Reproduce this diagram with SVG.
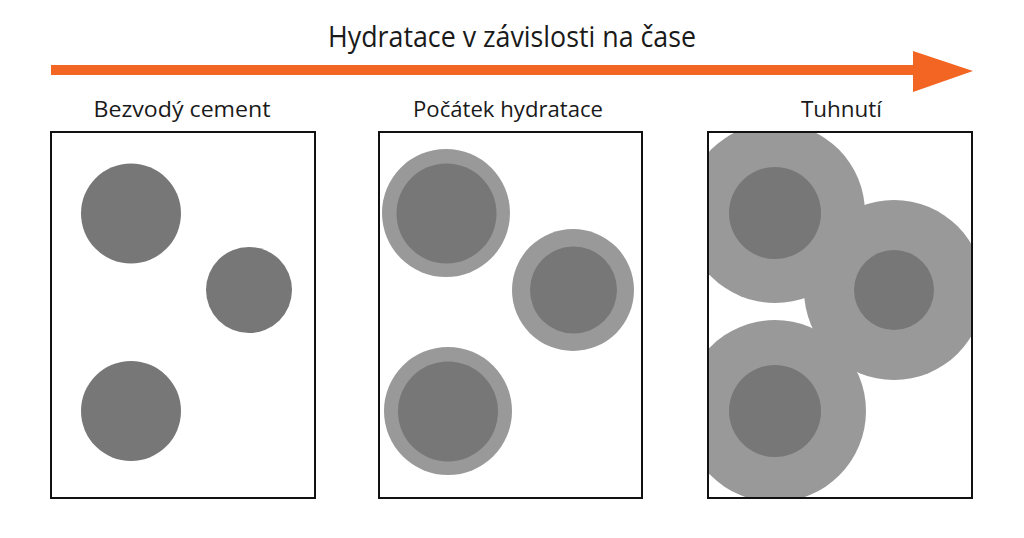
<svg xmlns="http://www.w3.org/2000/svg" width="1024" height="538" viewBox="0 0 1024 538">
<style>
.t{font-family:"Open Sans","Noto Sans",sans-serif;fill:#1a1a1a;text-anchor:middle}
.frame{fill:none;stroke:#111;stroke-width:2}
.core{fill:#777777}
.shell{fill:#999999}
</style>
<defs>
<clipPath id="clip3"><rect x="709" y="132" width="262" height="365"/></clipPath>
</defs>
<rect width="1024" height="538" fill="#fff"/>
<text class="t" x="512" y="47" font-size="29" textLength="368" lengthAdjust="spacingAndGlyphs">Hydratace v závislosti na čase</text>
<g id="connectors">
<rect x="51" y="65" width="864" height="10" fill="#F26522"/>
<polygon points="913,51 973,71 913,92" fill="#F26522"/>
</g>
<g id="panel1">
<text class="t" x="182" y="117" font-size="21" textLength="177" lengthAdjust="spacingAndGlyphs">Bezvodý cement</text>
<rect class="frame" x="51" y="132" width="264" height="366"/>
<circle class="core" cx="131" cy="213.5" r="50"/>
<circle class="core" cx="249" cy="290" r="43"/>
<circle class="core" cx="131" cy="411" r="50"/>
</g>
<g id="panel2">
<text class="t" x="508" y="117" font-size="21" textLength="190" lengthAdjust="spacingAndGlyphs">Počátek hydratace</text>
<circle class="shell" cx="446" cy="213" r="64"/>
<circle class="core" cx="446.5" cy="213.5" r="50"/>
<circle class="shell" cx="573" cy="290" r="61"/>
<circle class="core" cx="573.5" cy="290" r="43.5"/>
<circle class="shell" cx="448" cy="411" r="64"/>
<circle class="core" cx="448" cy="411.5" r="50"/>
<rect class="frame" x="379" y="132" width="263" height="366"/>
</g>
<g id="panel3">
<text class="t" x="841.5" y="117" font-size="21" textLength="81" lengthAdjust="spacingAndGlyphs">Tuhnutí</text>
<g clip-path="url(#clip3)">
<circle class="shell" cx="775" cy="213" r="90"/>
<circle class="shell" cx="894" cy="290" r="90"/>
<circle class="shell" cx="775" cy="411" r="91"/>
<circle class="core" cx="775" cy="213" r="46"/>
<circle class="core" cx="894" cy="290" r="40"/>
<circle class="core" cx="775" cy="411" r="46"/>
</g>
<rect class="frame" x="708" y="132" width="264" height="366"/>
</g>
</svg>
